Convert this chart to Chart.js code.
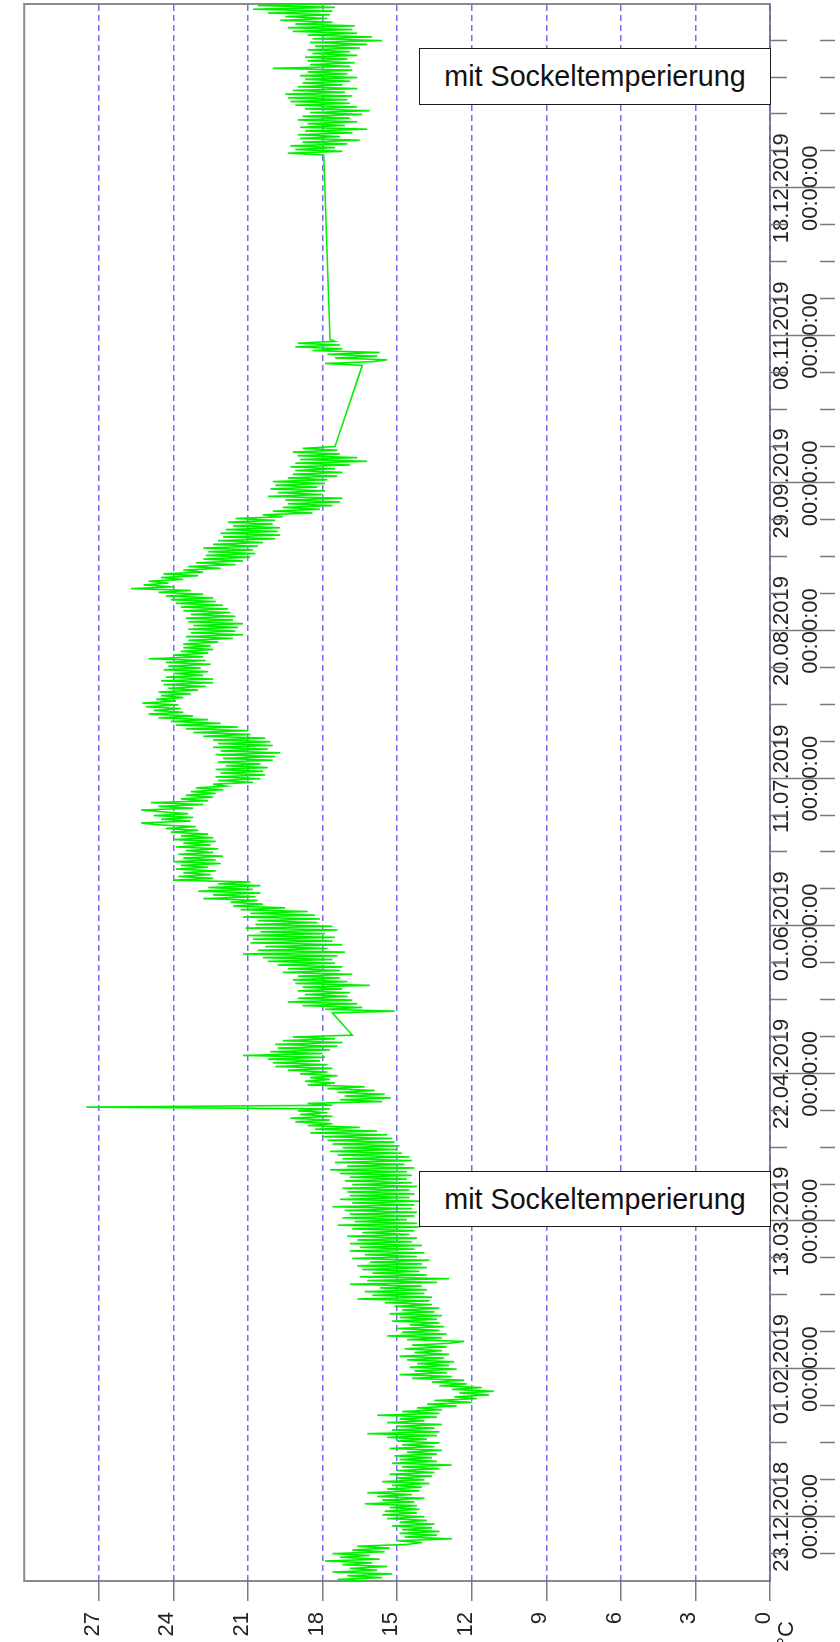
<!DOCTYPE html>
<html>
<head>
<meta charset="utf-8">
<title>Temperaturverlauf</title>
<script src="https://cdn.jsdelivr.net/npm/chart.js@4.4.1/dist/chart.umd.min.js"></script>
<style>
  html, body { margin: 0; padding: 0; background: #fff; }
  body { width: 840px; height: 1642px; position: relative; overflow: hidden;
         font-family: "Liberation Sans", Arial, sans-serif; }
  /* the chart is laid out landscape and turned a quarter turn counter-clockwise */
  #turn { position: absolute; left: 0; top: 0; width: 1642px; height: 840px;
          transform-origin: 0 0; transform: translate(0, 1642px) rotate(-90deg); }
  #turn canvas { display: block; }
  .note { position: absolute; box-sizing: border-box; border: 1.5px solid #1a1a1a;
          background: #fff; color: #111; font-size: 28.7px; white-space: nowrap;
          display: flex; align-items: center; justify-content: center; }
</style>
</head>
<body>
<div id="turn"><canvas id="chart" width="1642" height="840" style="width:1642px;height:840px"></canvas></div>
<div class="note" style="left:419px; top:48px; width:352px; height:57px;">mit Sockeltemperierung</div>
<div class="note" style="left:419px; top:1171px; width:352px; height:56px;">mit Sockeltemperierung</div>

<script>
// Day 0 of the time axis is 23.12.2018 00:00; x values are days from that date.
const dayOrigin = Date.UTC(2018, 11, 23);
const axisStartDay = -17.42;
const axisEndDay = 409.92;

// Temperature readings, one every 12 hours, in four recorded stretches.
const sampleStepDays = 0.5;
const segmentStartDays = [-17.5, 136.5, 312, 369];

const tempsDecToMay = [
  16.2, 17.4, 15.6, 17.0, 15.2, 17.6, 15.8, 16.9, 15.4, 17.2,
  16.0, 17.9, 15.7, 17.3, 16.1, 17.6, 15.5, 16.8, 15.3, 16.6,
  14.6, 14.0, 15.0, 12.8, 14.7, 13.4, 14.9, 13.3, 14.8, 13.6,
  15.2, 13.5, 14.9, 13.8, 15.4, 13.9, 15.6, 14.2, 15.5, 14.1,
  15.3, 14.2, 16.3, 14.3, 15.6, 13.9, 15.8, 14.4, 16.2, 14.1,
  15.4, 14.0, 15.2, 13.7, 15.6, 13.9, 15.0, 13.6, 15.3, 13.5,
  15.0, 13.3, 14.8, 12.8, 15.2, 13.4, 14.9, 13.6, 15.1, 13.4,
  14.6, 13.2, 15.3, 13.5, 14.8, 13.3, 15.0, 13.8, 15.4, 13.4,
  16.2, 13.3, 15.2, 13.5, 15.0, 13.2, 15.4, 13.9, 14.9, 13.4,
  15.8, 13.3, 14.8, 13.2, 14.2, 12.6, 13.8, 12.0, 13.5, 11.8,
  12.7, 11.3, 12.5, 11.1, 12.8, 11.6, 13.3, 12.2, 13.6, 12.3,
  14.4, 12.8, 14.9, 13.0, 14.3, 12.6, 14.5, 12.9, 14.2, 12.7,
  14.6, 13.1, 14.9, 12.9, 14.3, 13.2, 14.7, 13.0, 14.4, 12.9,
  12.3, 14.6, 13.2, 15.4, 13.0, 14.8, 13.3, 15.0, 13.1, 14.5,
  13.3, 15.2, 13.4, 14.9, 13.2, 15.3, 13.5, 14.8, 13.3, 15.1,
  13.6, 15.5, 13.7, 16.6, 13.6, 16.0, 13.9, 16.3, 13.8, 15.7,
  14.0, 16.9, 13.4, 16.2, 12.9, 16.5, 13.8, 16.0, 14.1, 16.4,
  13.8, 16.6, 14.0, 16.1, 13.7, 16.8, 14.2, 16.3, 13.9, 16.9,
  14.3, 16.5, 14.0, 16.9, 14.4, 16.6, 14.2, 17.0, 14.5, 16.4,
  14.3, 16.8, 14.1, 17.4, 14.2, 16.7, 14.6, 17.2, 14.3, 16.9,
  14.2, 17.1, 14.4, 17.6, 14.3, 16.8, 14.1, 17.3, 14.5, 16.9,
  14.3, 17.0, 14.5, 17.2, 14.2, 16.8, 14.4, 17.1, 14.6, 16.9,
  14.4, 17.3, 14.6, 17.7, 14.3, 17.0, 14.7, 17.5, 14.4, 17.2,
  14.5, 17.4, 14.8, 17.7, 15.0, 17.2, 14.9, 17.6, 15.1, 17.8,
  15.2, 18.0, 15.4, 18.5, 15.8, 18.3, 16.5, 18.6, 17.6, 19.1,
  17.7, 19.3, 17.6, 18.9, 17.8, 19.0, 17.7, 27.5, 17.6, 18.6,
  15.6, 17.3, 15.25, 17.1, 15.5, 17.4, 15.9, 17.8, 16.3, 18.6,
  17.5, 18.7, 17.7, 18.5, 17.4, 18.9, 17.8, 19.4, 17.6, 19.9,
  17.8, 20.0, 18.1, 20.2, 17.9, 21.2, 18.0, 20.1, 17.7, 19.8,
  17.4, 19.9, 17.2, 19.6, 17.5, 19.2, 16.8
];

const tempsMayToOct = [
  17.6, 15.1, 17.9, 16.4, 18.8, 16.6, 19.4, 16.8, 19.0, 17.0,
  18.7, 16.9, 19.0, 17.2, 18.8, 16.1, 19.1, 17.0, 19.2, 17.3,
  19.0, 16.8, 19.6, 17.3, 19.4, 17.2, 19.8, 17.5, 20.2, 17.6,
  20.4, 17.4, 21.2, 17.1, 20.6, 17.8, 20.3, 17.2, 20.9, 17.6,
  20.8, 17.5, 21.0, 17.9, 20.5, 17.4, 21.1, 17.6, 20.7, 18.2,
  20.6, 18.1, 21.2, 18.3, 20.9, 18.6, 21.3, 19.5, 21.6, 20.4,
  21.7, 20.6, 22.8, 20.7, 22.4, 20.5, 23.0, 20.8, 22.6, 20.5,
  22.2, 20.9, 24.0, 22.4, 23.8, 22.5, 23.6, 22.3, 23.9, 22.6,
  23.7, 22.1, 24.0, 22.3, 23.6, 22.0, 23.8, 22.4, 23.5, 22.2,
  23.9, 22.5, 23.6, 22.3, 24.0, 22.4, 23.7, 22.6, 24.1, 23.0,
  24.3, 23.1, 24.6, 25.3, 23.3, 24.5, 23.2, 24.8, 23.4, 24.4,
  25.3, 23.2, 24.6, 22.8, 24.9, 22.6, 23.7, 22.4, 23.5, 22.3,
  23.3, 22.0, 23.1, 21.9, 22.4, 20.8, 22.2, 20.5, 22.3, 20.3,
  22.1, 20.4, 22.3, 20.2, 21.9, 20.5, 22.2, 20.0, 22.0, 19.9,
  22.3, 19.7, 22.1, 20.2, 22.4, 20.0, 22.2, 20.1, 22.4, 20.3,
  22.8, 20.9, 23.2, 21.0, 23.5, 21.4, 23.9, 22.1, 24.1, 22.6,
  24.6, 23.2, 25.0, 23.6, 24.8, 23.7, 25.1, 23.8, 25.25, 23.9,
  24.7, 23.6, 24.5, 23.3, 24.6, 23.0, 24.2, 22.7, 24.4, 22.4,
  24.5, 22.4, 24.3, 22.8, 24.0, 22.6, 24.4, 22.9, 24.2, 22.5,
  24.3, 22.7, 25.0, 22.8, 24.0, 22.6, 23.7, 22.4, 23.6, 22.5,
  23.6, 22.2, 23.4, 21.6, 23.5, 21.2, 23.3, 21.5, 23.4, 21.4,
  23.2, 21.2, 23.4, 21.6, 23.5, 21.5, 23.3, 21.7, 23.6, 21.8,
  23.7, 22.0, 23.9, 22.3, 24.1, 22.4, 24.3, 22.8, 24.6, 23.3,
  25.7, 24.0, 25.2, 24.2, 25.0, 23.6, 24.5, 23.0, 24.4, 22.8,
  23.6, 22.1, 23.4, 21.5, 23.1, 21.2, 22.8, 20.9, 22.7, 20.7,
  22.6, 20.8, 22.8, 20.6, 22.4, 20.4, 22.2, 19.9, 22.0, 19.7,
  22.1, 19.8, 21.9, 19.7, 21.6, 20.0, 21.8, 19.9, 21.5, 19.6,
  20.4, 18.4, 20.0, 18.1, 19.6, 17.6, 19.4, 17.3, 19.5, 17.2,
  20.2, 18.0, 19.8, 17.9, 20.1, 18.2, 19.9, 17.9, 20.0, 17.8,
  19.4, 17.4, 19.2, 17.2, 19.1, 17.5, 19.3, 16.9, 19.1, 16.2,
  18.9, 16.6, 19.0, 17.3, 19.2, 17.4, 18.8, 17.5
];

const tempsNov = [
  16.4, 17.9, 16.0, 15.4, 17.5, 15.8, 17.8, 15.7, 18.4, 17.2,
  19.1, 17.3, 19.0, 17.5, 17.7
];

const tempsDecToFeb = [
  17.95, 19.4, 17.2, 19.1, 17.5, 19.3, 17.0, 18.8, 16.5, 18.9,
  17.3, 19.0, 16.8, 18.7, 16.2, 18.9, 17.1, 18.6, 16.6, 19.0,
  16.9, 18.8, 16.4, 18.5, 16.1, 18.7, 16.6, 19.1, 16.9, 19.3,
  17.0, 19.4, 16.8, 19.5, 17.1, 19.2, 16.6, 19.0, 17.2, 18.8,
  16.9, 18.7, 16.6, 18.9, 17.0, 18.6, 16.8, 20.0, 16.9, 18.5,
  16.7, 18.6, 17.0, 18.7, 16.6, 18.4, 16.9, 18.6, 16.5, 18.3,
  16.2, 18.5, 15.6, 18.4, 16.0, 18.6, 16.6, 19.2, 16.8, 19.4,
  16.7, 19.1, 17.6, 19.7, 17.8, 19.5, 17.7, 20.2, 17.6, 20.8,
  17.5, 20.6, 17.8, 19.9
];

// Axis ticks
const dateTickDays = [0, 40, 80, 120, 160, 200, 240, 280, 320, 360];
const dateTickLabels = ['23.12.2018', '01.02.2019', '13.03.2019', '22.04.2019', '01.06.2019',
                        '11.07.2019', '20.08.2019', '29.09.2019', '08.11.2019', '18.12.2019'];
const minorTickStepDays = 10;
const tempTicks = [0, 3, 6, 9, 12, 15, 18, 21, 24, 27];
const tempUnit = '°C';

const segments = [tempsDecToMay, tempsMayToOct, tempsNov, tempsDecToFeb];
const points = [];
segments.forEach((vals, s) => {
  vals.forEach((v, k) => points.push({ x: segmentStartDays[s] + k * sampleStepDays, y: v }));
});

const FONT = '"Liberation Sans", Arial, sans-serif';
const GRID_BLUE = 'rgba(88, 88, 232, 0.85)';
const FRAME_GREY = '#8a8a8a';
const TICK_GREY = '#7a7a7a';

// frame behind the grid, date tick marks and unit label on top
const framePlugin = {
  id: 'framePlugin',
  beforeDraw(chart) {
    const { ctx, chartArea: a } = chart;
    ctx.save();
    ctx.fillStyle = '#fff';
    ctx.fillRect(0, 0, chart.width, chart.height);
    ctx.strokeStyle = FRAME_GREY;
    ctx.lineWidth = 2;
    ctx.strokeRect(a.left, a.top, a.right - a.left, a.bottom - a.top);
    ctx.restore();
  },
  afterDraw(chart) {
    const { ctx, chartArea: a, scales } = chart;
    const x = scales.x, y = scales.y;
    ctx.save();
    ctx.strokeStyle = TICK_GREY;
    ctx.lineWidth = 1.5;
    const first = Math.ceil(x.min / minorTickStepDays) * minorTickStepDays;
    for (let d = first; d <= x.max; d += minorTickStepDays) {
      const px = Math.round(x.getPixelForValue(d)) + 0.5;
      ctx.beginPath();
      if (dateTickDays.includes(d)) {
        ctx.moveTo(px, a.bottom); ctx.lineTo(px, a.bottom + 65);
      } else {
        ctx.moveTo(px, a.bottom); ctx.lineTo(px, a.bottom + 17);
        ctx.moveTo(px, a.bottom + 50); ctx.lineTo(px, a.bottom + 65);
      }
      ctx.stroke();
    }
    ctx.fillStyle = '#222';
    ctx.font = '22px ' + FONT;
    ctx.textAlign = 'right';
    ctx.textBaseline = 'middle';
    ctx.fillText(tempUnit, 21, y.getPixelForValue(0) + 17);
    ctx.restore();
  }
};

new Chart(document.getElementById('chart'), {
  type: 'line',
  data: {
    datasets: [{
      data: points,
      borderColor: '#00f000',
      borderWidth: 1.6,
      pointRadius: 0,
      tension: 0,
      fill: false
    }]
  },
  options: {
    responsive: false,
    animation: false,
    events: [],
    layout: { padding: { left: 0, right: 4, top: 12, bottom: 0 } },
    plugins: { legend: { display: false }, tooltip: { enabled: false } },
    scales: {
      x: {
        type: 'linear',
        min: axisStartDay,
        max: axisEndDay,
        afterBuildTicks: (s) => { s.ticks = dateTickDays.map(v => ({ value: v })); },
        afterFit: (s) => { s.height = 70; },
        grid: { display: false, drawTicks: false },
        border: { display: false },
        ticks: {
          autoSkip: false, maxRotation: 0, minRotation: 0, padding: -3,
          color: '#222',
          font: { family: FONT, size: 22, lineHeight: 1.34 },
          callback: (v) => {
            const i = dateTickDays.indexOf(v);
            return i < 0 ? '' : [dateTickLabels[i], '00:00:00'];
          }
        }
      },
      y: {
        type: 'linear',
        min: 0,
        max: 30,
        afterBuildTicks: (s) => { s.ticks = tempTicks.map(v => ({ value: v })); },
        afterFit: (s) => { s.width = 61; },
        grid: {
          color: GRID_BLUE,
          lineWidth: 1.5,
          tickLength: 20,
          tickColor: TICK_GREY,
          tickWidth: 1.5,
          tickBorderDash: []
        },
        border: { display: false, dash: [6, 4] },
        ticks: {
          padding: 11,
          labelOffset: -6,
          color: '#222',
          font: { family: FONT, size: 22 },
          callback: (v) => String(v)
        }
      }
    }
  },
  plugins: [framePlugin]
});
</script>
</body>
</html>
